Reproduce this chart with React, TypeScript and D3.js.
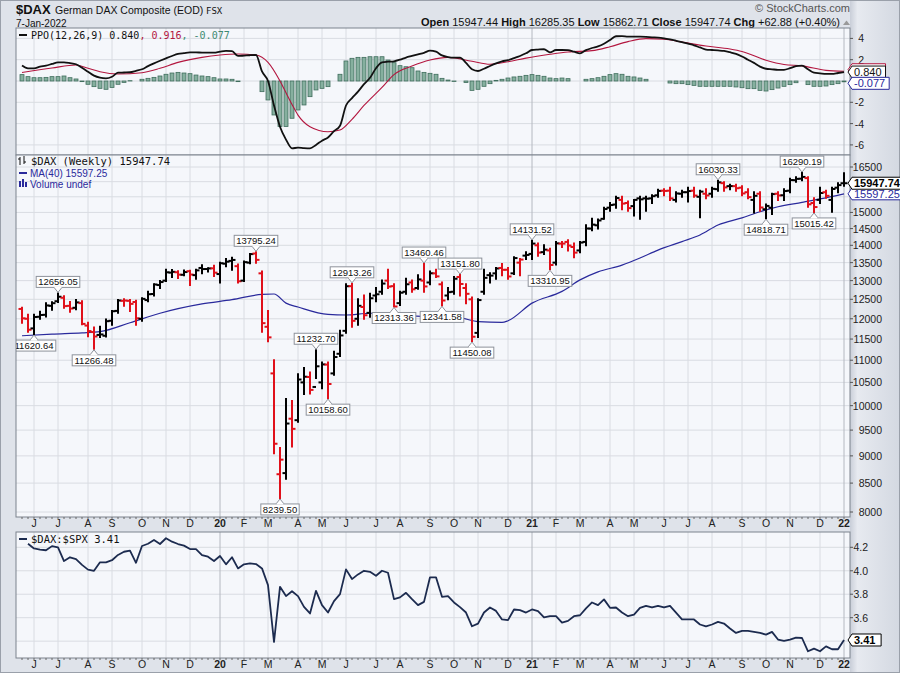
import React from "react";
import * as d3 from "d3";

// ---------- DATA ----------
const START = new Date(2019, 4, 20); // first weekly bar (Monday)
const END = new Date(2022, 0, 4);
const PREV_CLOSE = 12238;

const opens = [
  12250, 12000, 11760, 12050, 12100, 12330, 12450, 12540, 12330, 12280,
  12400, 11830, 11670, 11600, 11580, 11950, 12200, 12460, 12460, 12430,
  12000, 12480, 12640, 12880, 13000, 13220, 13230, 13160, 13260, 13150,
  13350, 13320, 13340, 13180, 13470, 13550, 13400, 13000, 13500, 13760,
  13200, 11800, 10700, 8660, 8680, 9730, 9700, 10500, 10620, 10400,
  10500, 10900, 10700, 11150, 11700, 12850, 12000, 12300, 12150, 12600,
  12700, 13000, 12850, 12400, 12700, 12950, 12800, 13000, 12950, 13200,
  12900, 12600, 12700, 13100, 12800, 12500, 11650, 12700, 13150, 13200,
  13350, 13300, 13200, 13500, 13700, 13750, 14000, 13800, 13850, 13500,
  14050, 14100, 13950, 13850, 14100, 14500, 14600, 14800, 15150, 15250,
  15400, 15300, 15200, 15450, 15450, 15450, 15550, 15700, 15700, 15400,
  15600, 15650, 15700, 15500, 15600, 15600, 15750, 15950, 15850, 15850,
  15800, 15650, 15400, 15600, 15100, 15150, 15600, 15550, 15700, 16050,
  16100, 16120, 15300, 15400, 15650, 15400, 15800, 15947.44,
];
const highs = [
  12280, 12100, 12100, 12180, 12400, 12420, 12656.05, 12580, 12430, 12480,
  12450, 11900, 11780, 11800, 11980, 12200, 12480, 12500, 12480, 12460,
  12530, 12700, 12900, 12990, 13300, 13290, 13260, 13280, 13270, 13300,
  13425, 13340, 13410, 13500, 13600, 13640, 13450, 13530, 13750, 13795.24,
  13250, 12200, 11000, 9150, 10140, 10100, 10680, 10820, 10720, 11232.7,
  10950, 10950, 11200, 11700, 12900, 12913.26, 12500, 12600, 12650, 12800,
  13000, 13300, 12900, 12700, 13050, 13000, 13150, 13460.46, 13250, 13300,
  12950, 12800, 13100, 13151.8, 12900, 12550, 12500, 13300, 13200, 13350,
  13460, 13350, 13650, 13600, 13800, 14131.52, 14050, 14000, 13900, 14100,
  14100, 14150, 14050, 14100, 14600, 14800, 14780, 15150, 15300, 15500,
  15500, 15350, 15400, 15500, 15500, 15550, 15730, 15750, 15800, 15650,
  15700, 15800, 15800, 15700, 15750, 15800, 16030.33, 15980, 15900, 15900,
  15850, 15750, 15650, 15650, 15250, 15600, 15650, 15750, 16100, 16150,
  16290.19, 16150, 15450, 15800, 15700, 15800, 15950, 16285.35,
];
const lows = [
  11900, 11680, 11620.64, 12000, 12060, 12230, 12430, 12280, 12180, 12240,
  11860, 11570, 11266.48, 11550, 11560, 11850, 12150, 12330, 12200, 11850,
  11950, 12450, 12600, 12800, 12990, 13100, 13070, 13150, 12880, 13050,
  13200, 13250, 13130, 12950, 13400, 13300, 12950, 12990, 13480, 13500,
  11680, 11450, 9050, 8239.5, 8580, 9180, 9670, 10250, 10260, 10600,
  10370, 10158.6, 10670, 11100, 11650, 11800, 11850, 12000, 12050, 12450,
  12650, 12800, 12313.36, 12350, 12650, 12700, 12780, 12700, 12900, 13100,
  12341.58, 12500, 12650, 12600, 12400, 11450.08, 11550, 12650, 12950, 13050,
  13150, 13050, 13180, 13150, 13600, 13600, 13700, 13750, 13310.95, 13450,
  13950, 13850, 13650, 13800, 14000, 14450, 14500, 14800, 15050, 15150,
  15100, 15050, 14900, 14800, 15050, 15300, 15500, 15550, 15400, 15350,
  15500, 15350, 15500, 14850, 15450, 15500, 15700, 15700, 15750, 15700,
  15550, 15450, 15000, 15050, 14818.71, 14950, 15400, 15400, 15650, 16000,
  16050, 15180, 15015.42, 15300, 15470, 15020, 15650, 15862.71,
];
const closes = [
  12011, 11727, 12045, 12096, 12340, 12399, 12568, 12323, 12260, 12419,
  11872, 11694, 11562, 11612, 11939, 12191, 12469, 12468, 12381, 12012,
  12512, 12634, 12895, 12961, 13229, 13242, 13164, 13236, 13167, 13283,
  13319, 13337, 13219, 13483, 13527, 13577, 12982, 13514, 13744, 13579,
  11890, 11541, 9232, 8929, 9632, 9525, 10564, 10626, 10336, 10861,
  10904, 10465, 11074, 11587, 12848, 11949, 12331, 12089, 12528, 12633,
  12920, 12838, 12313, 12674, 12901, 12765, 13033, 12842, 13202, 13116,
  12469, 12689, 13051, 12909, 12645, 11556, 12480, 13076, 13137, 13335,
  13298, 13114, 13630, 13587, 13719, 14050, 13787, 13873, 13433, 14057,
  14050, 13993, 13786, 14080, 14502, 14621, 14749, 15107, 15234, 15459,
  15280, 15136, 15400, 15417, 15438, 15520, 15693, 15692, 15448, 15608,
  15650, 15688, 15540, 15669, 15544, 15761, 15977, 15808, 15852, 15781,
  15609, 15490, 15532, 15156, 15206, 15587, 15543, 15688, 16054, 16094,
  16160, 15257, 15170, 15623, 15532, 15756, 15885, 15947.74,
];

const maWeeks = [0, 5, 10, 13, 18, 23, 30, 35, 40, 42, 44, 46, 51, 54, 58, 63, 68, 73, 76, 80, 81, 85, 90, 93, 96, 100, 103, 106, 110, 113, 116, 120, 123, 126, 130, 133, 137];
const maValues = [11580, 11620, 11650, 11680, 11900, 12140, 12380, 12490, 12630, 12640, 12400, 12300, 12110, 12095, 12140, 12095, 12050, 12020, 11930, 11910, 11950, 12400, 12710, 13020, 13240, 13430, 13630, 13860, 14110, 14306, 14610, 14830, 15020, 15180, 15320, 15430, 15597.25];

const ppoValues = [
  1.45, 1.19, 1.19, 1.34, 1.45, 1.6, 1.75, 1.75, 1.68, 1.57,
  1.25, 0.87, 0.5, 0.31, 0.25, 0.4, 0.78, 0.8, 0.82, 0.95,
  1.1, 1.4, 1.66, 1.9, 2.13, 2.35, 2.54, 2.62, 2.69, 2.68,
  2.67, 2.66, 2.66, 2.75, 2.82, 2.8, 2.35, 2.38, 2.42, 2.44,
  0.9, 0.0, -2.3, -4.29, -5.5, -6.32, -6.26, -6.3, -6.32, -6.0,
  -5.6, -5.3, -4.7, -4.2, -2.3, -1.6, -1.0, -0.3, 0.3, 1.2,
  1.75, 1.81, 1.85, 2.0, 2.2, 2.35, 2.5, 2.65, 2.85, 2.75,
  2.4, 2.25, 2.2, 2.2, 1.7, 1.1, 0.94, 1.15, 1.41, 1.65,
  1.85, 1.95, 2.15, 2.35, 2.6, 2.91, 2.95, 2.98, 2.69, 2.91,
  2.91, 2.9, 2.75, 2.6, 2.9, 3.1, 3.25, 3.5, 3.85, 4.2,
  4.22, 4.16, 4.16, 4.16, 4.14, 4.1, 4.07, 4.0, 3.9, 3.78,
  3.65, 3.5, 3.35, 3.15, 2.95, 2.91, 2.87, 2.82, 2.7, 2.55,
  2.3, 2.0, 1.7, 1.35, 1.15, 1.1, 1.05, 1.05, 1.2, 1.4,
  1.45, 1.1, 0.78, 0.72, 0.66, 0.66, 0.75, 0.84,
];
const sigWeeks = [0, 5, 9, 11, 13, 16, 20, 23, 26, 30, 33, 36, 39, 41, 43, 44, 45, 46, 48, 51, 53, 55, 57, 60, 62, 65, 68, 71, 75, 78, 81, 84, 88, 91, 95, 98, 101, 104, 107, 110, 114, 118, 120, 124, 127, 130, 134, 137];
const sigValues = [0.8, 1.22, 1.5, 1.19, 0.87, 0.66, 0.78, 1.19, 1.75, 2.22, 2.44, 2.54, 2.44, 1.75, 0.0, -1.1, -2.2, -3.2, -4.29, -4.76, -4.6, -3.6, -2.3, -0.6, 0.6, 1.4, 1.97, 2.22, 1.85, 1.57, 1.81, 2.15, 2.51, 2.73, 2.85, 3.22, 3.7, 3.98, 3.92, 3.65, 3.28, 3.0, 2.77, 1.95, 1.55, 1.42, 1.0, 0.916];
const histValues = [
  0.6, 0.41, 0.31, 0.31, 0.34, 0.41, 0.41, 0.47, 0.31, 0.19,
  -0.06, -0.31, -0.53, -0.69, -0.78, -0.6, -0.31, -0.13, 0.03, 0.0,
  0.16, 0.25, 0.34, 0.47, 0.63, 0.75, 0.81, 0.75, 0.69, 0.56,
  0.47, 0.41, 0.31, 0.19, 0.19, 0.16, -0.06, 0.0, 0.0, 0.0,
  -1.0, -1.78, -3.19, -4.28, -4.28, -3.5, -2.72, -2.25, -1.47, -0.84,
  -0.69, -0.53, 0.0, 0.63, 1.88, 2.13, 2.22, 2.22, 2.28, 2.28,
  2.28, 1.97, 1.72, 1.44, 1.34, 1.25, 0.94, 0.81, 0.72, 0.63,
  0.25, 0.09, -0.05, 0.0, -0.15, -0.88, -0.78, -0.5, -0.25, 0.06,
  0.16, 0.28, 0.38, 0.44, 0.53, 0.6, 0.53, 0.44, 0.28, 0.22,
  0.28, 0.22, 0.0, 0.0, 0.16, 0.22, 0.31, 0.44, 0.6, 0.69,
  0.63, 0.44, 0.38, 0.28, 0.16, 0.0, 0.0, 0.0, -0.19, -0.25,
  -0.25, -0.34, -0.41, -0.5, -0.5, -0.5, -0.5, -0.5, -0.5, -0.56,
  -0.63, -0.72, -0.72, -0.88, -0.94, -0.81, -0.66, -0.5, -0.34, -0.16,
  0.0, -0.34, -0.5, -0.5, -0.47, -0.34, -0.25, -0.077,
];
// $DAX:$SPX ratio, starts at week 1
const ratioValues = [
  4.23, 4.19, 4.18, 4.175, 4.21, 4.2, 4.083, 4.115, 4.1,
  4.05, 4.01, 4.0, 4.072, 4.072, 4.09, 4.135, 4.162, 4.171, 4.068,
  4.211, 4.23, 4.262, 4.228, 4.277, 4.248, 4.228, 4.214, 4.185, 4.185,
  4.134, 4.12, 4.083, 4.126, 4.055, 4.115, 4.02, 4.055, 4.063, 4.057,
  4.02, 3.878, 3.393, 3.863, 3.784, 3.826, 3.784, 3.692, 3.636, 3.829,
  3.707, 3.644, 3.741, 3.801, 4.012, 3.929, 3.969, 4.0, 3.991, 3.957,
  4.0, 3.983, 3.758, 3.773, 3.812, 3.758, 3.707, 3.735, 3.944, 3.944,
  3.778, 3.784, 3.73, 3.69, 3.644, 3.527, 3.55, 3.644, 3.687, 3.658,
  3.585, 3.579, 3.67, 3.664, 3.644, 3.67, 3.656, 3.602, 3.613, 3.613,
  3.559, 3.573, 3.613, 3.621, 3.679, 3.73, 3.707, 3.756, 3.684, 3.687,
  3.644, 3.613, 3.627, 3.684, 3.701, 3.687, 3.701, 3.687, 3.701, 3.644,
  3.585, 3.585, 3.585, 3.542, 3.527, 3.542, 3.564, 3.55, 3.508, 3.47,
  3.487, 3.487, 3.479, 3.47, 3.456, 3.479, 3.414, 3.402, 3.414, 3.431,
  3.427, 3.314, 3.337, 3.314, 3.356, 3.331, 3.331, 3.41,
];

const priceTicks = [8000, 8500, 9000, 9500, 10000, 10500, 11000, 11500, 12000, 12500, 13000, 13500, 14000, 14500, 15000, 15500, 16000, 16500];
const priceLabelTicks = [8000, 8500, 9000, 9500, 10000, 10500, 11000, 11500, 12000, 12500, 13000, 13500, 14000, 14500, 15000, 16500];
const ppoTicks = [-6, -4, -2, 0, 2, 4];
const ppoLabelTicks = [-6, -4, -2, 2, 4];
const ratioTicks = [3.4, 3.6, 3.8, 4.0, 4.2];
const ratioLabelTicks = [3.6, 3.8, 4.0, 4.2];

const annoWeeks = [6, 2, 12, 39, 43, 49, 51, 55, 62, 67, 70, 73, 75, 85, 88, 116, 124, 130, 132];
const annoValues = [12656.05, 11620.64, 11266.48, 13795.24, 8239.5, 11232.7, 10158.6, 12913.26, 12313.36, 13460.46, 12341.58, 13151.8, 11450.08, 14131.52, 13310.95, 16030.33, 14818.71, 16290.19, 15015.42];
const annoSide = ["H", "L", "L", "H", "L", "H", "L", "H", "L", "H", "L", "H", "L", "H", "L", "H", "L", "H", "L"];

const MONTHS = "JFMAMJJASOND";

// ---------- STYLE ----------
const SANS = "'Liberation Sans', Arial, sans-serif";
const MONO = "'DejaVu Sans Mono', monospace";
const PANEL_BG = "#f5f7fb";
const GRID = "#d9dce2";
const GRID_YEAR = "#b4b8c0";
const BORDER = "#7d838d";
const RED = "#e0101a";
const NAVY = "#2a2a9c";

export default function App() {
  const dates = d3.timeMonday.range(START, END);
  const n = dates.length;
  const L = 16, R = 850;
  const ppoTop = 28, ppoBot = 155, mainTop = 155, mainBot = 517, rTop = 532, rBot = 658;

  const x = d3.scaleLinear().domain([0, n - 1]).range([22, 844]);
  const yP = d3.scaleLog().domain([8000, 16500]).range([512, 167]);
  const yO = d3.scaleLinear().domain([-6, 4]).range([144.9, 38.4]);
  const yR = d3.scaleLinear().domain([3.6, 4.2]).range([617.7, 547.3]);

  const monthTicks = dates
    .map((d, i) => ({ d, i }))
    .filter(({ d, i }) => i > 0 && d.getMonth() !== dates[i - 1].getMonth());

  const maPath = d3.line<number>().x((_, k) => x(maWeeks[k])).y((v) => yP(v)).curve(d3.curveMonotoneX)(maValues) || "";
  const ppoPath = d3.line<number>().x((_, k) => x(k)).y((v) => yO(v)).curve(d3.curveMonotoneX)(ppoValues) || "";
  const sigPath = d3.line<number>().x((_, k) => x(sigWeeks[k])).y((v) => yO(v)).curve(d3.curveMonotoneX)(sigValues) || "";
  const ratioPath = d3.line<number>().x((_, k) => x(k + 1)).y((v) => yR(v))(ratioValues) || "";

  const vGrid = (top: number, bot: number, key: string) =>
    monthTicks.map(({ d, i }) => (
      <line key={key + i} x1={x(i)} x2={x(i)} y1={top} y2={bot} stroke={d.getMonth() === 0 ? GRID_YEAR : GRID} strokeWidth={1} />
    ));

  const monthLabels = (yBase: number, key: string) =>
    monthTicks.map(({ d, i }) => (
      <text key={key + i} x={x(i)} y={yBase} textAnchor="middle" fontFamily={SANS} fontSize={10.5}
        fontWeight={d.getMonth() === 0 ? "bold" : "normal"} fill="#222">
        {d.getMonth() === 0 ? d3.timeFormat("%y")(d) : MONTHS[d.getMonth()]}
      </text>
    ));

  const weekTicks = (yb: number, key: string) =>
    dates.map((d, i) => (
      <line key={key + i} x1={x(i)} x2={x(i)} y1={yb} y2={yb + 2} stroke="#666" strokeWidth={1} />
    ));

  const textW = (s: string, fs: number) => {
    let w = 0;
    for (const c of s) w += c === "." ? 0.278 : c === "-" ? 0.333 : 0.556;
    return w * fs;
  };

  const valueBox = (label: string, yv: number, color: string, bold: boolean, key: string, showText = true, x0 = 852, fs = 11) => {
    const w = textW(label, fs) * (bold ? 1.08 : 1) + 6;
    const h = 12;
    return (
      <g key={key}>
        <path d={`M${x0 - 4},${yv} L${x0},${yv - h / 2} H${x0 + w} V${yv + h / 2} H${x0} Z`} fill="#fff" stroke={color} strokeWidth={1} />
        {showText && (
          <text x={x0 + 2} y={yv + 4} fontFamily={SANS} fontSize={fs} fontWeight={bold ? "bold" : "normal"} fill={color}>{label}</text>
        )}
      </g>
    );
  };

  return (
    <svg width={900} height={673} style={{ position: "absolute", left: 0, top: 0, display: "block" }}>
      <defs>
        <linearGradient id="rstrip" x1="0" x2="1" y1="0" y2="0">
          <stop offset="0" stopColor="#c9ced8" />
          <stop offset="0.15" stopColor="#e7eaf0" />
          <stop offset="1" stopColor="#d3d8e1" />
        </linearGradient>
        <clipPath id="cPPO"><rect x={L} y={ppoTop} width={R - L} height={ppoBot - ppoTop} /></clipPath>
        <clipPath id="cMain"><rect x={L} y={mainTop} width={R - L} height={mainBot - mainTop} /></clipPath>
        <clipPath id="cR"><rect x={L} y={rTop} width={R - L} height={rBot - rTop} /></clipPath>
      </defs>
      <rect x={0} y={0} width={900} height={673} fill="#dfe3ea" />
      <rect x={850} y={0} width={50} height={673} fill="url(#rstrip)" />
      <rect x={0.5} y={0.5} width={899} height={672} fill="none" stroke="#9aa0aa" />

      {/* Header */}
      <text x={16} y={14} fontFamily={SANS} fontSize={13} fontWeight="bold" fill="#111">$DAX</text>
      <text x={55} y={14} fontFamily={SANS} fontSize={10.5} fill="#111">German DAX Composite (EOD)</text>
      <text x={206} y={14} fontFamily={MONO} fontSize={9} fill="#111">FSX</text>
      <text x={16} y={27} fontFamily={SANS} fontSize={10} fill="#111">7-Jan-2022</text>
      <text x={850} y={12} textAnchor="end" fontFamily={SANS} fontSize={11} fill="#555">© StockCharts.com</text>
      <text x={840} y={26} textAnchor="end" fontFamily={SANS} fontSize={11} fill="#111">
        <tspan fontWeight="bold">Open</tspan> 15947.44 <tspan fontWeight="bold">High</tspan> 16285.35{" "}
        <tspan fontWeight="bold">Low</tspan> 15862.71 <tspan fontWeight="bold">Close</tspan> 15947.74{" "}
        <tspan fontWeight="bold">Chg</tspan> +62.88 (+0.40%)
      </text>
      <path d="M843,25 L846.5,20.5 L850,25 Z" fill="#999" />

      {/* ---------- PPO panel ---------- */}
      <rect x={L} y={ppoTop} width={R - L} height={ppoBot - ppoTop} fill={PANEL_BG} stroke="none" />
      {ppoTicks.map((t) => (
        <line key={"pg" + t} x1={L} x2={R} y1={yO(t)} y2={yO(t)} stroke={GRID} />
      ))}
      {vGrid(ppoTop, ppoBot, "pv")}
      <g clipPath="url(#cPPO)">
        {histValues.map((v, i) => {
          const y0 = yO(0), y1 = yO(v);
          return (
            <rect key={"h" + i} x={x(i) - 2} y={Math.min(y0, y1)} width={4} height={Math.abs(y1 - y0)}
              fill="#86b09f" stroke="#3f6d5c" strokeWidth={0.8} />
          );
        })}
        <path d={sigPath} fill="none" stroke="#b3163f" strokeWidth={1.1} />
        <path d={ppoPath} fill="none" stroke="#111" strokeWidth={1.8} />
      </g>
      <rect x={L} y={ppoTop} width={R - L} height={ppoBot - ppoTop} fill="none" stroke={BORDER} />
      <line x1={19} x2={27} y1={35} y2={35} stroke="#111" strokeWidth={2} />
      <text x={31} y={38.5} fontFamily={MONO} fontSize={10} fill="#111">
        PPO(12,26,9) 0.840<tspan fill="#b3163f">, 0.916</tspan><tspan fill="#3d8a72">, -0.077</tspan>
      </text>
      {ppoLabelTicks.map((t) => (
        <g key={"pl" + t}>
          <line x1={R} x2={R + 3} y1={yO(t)} y2={yO(t)} stroke="#555" />
          <text x={864} y={yO(t) + 4} textAnchor="end" fontFamily={SANS} fontSize={10.5} fill="#222">{t}</text>
        </g>
      ))}
      {valueBox("0.916", yO(0.916) - 1.5, "#b3163f", false, "sb", false)}
      {valueBox("0.840", yO(0.84), "#111", false, "pb")}
      {valueBox("-0.077", yO(-0.077) + 1.5, NAVY, false, "hb")}

      {/* ---------- Main panel ---------- */}
      <rect x={L} y={mainTop} width={R - L} height={mainBot - mainTop} fill={PANEL_BG} stroke="none" />
      {priceTicks.map((t) => (
        <line key={"mg" + t} x1={L} x2={R} y1={yP(t)} y2={yP(t)} stroke={GRID} />
      ))}
      {vGrid(mainTop, mainBot, "mv")}
      <g clipPath="url(#cMain)">
        <path d={maPath} fill="none" stroke={NAVY} strokeWidth={1.2} />
        {closes.map((c, i) => {
          const prev = i === 0 ? PREV_CLOSE : closes[i - 1];
          const col = c < prev ? RED : "#000";
          const xi = x(i);
          return (
            <g key={"b" + i} stroke={col} strokeWidth={2}>
              <line x1={xi} x2={xi} y1={yP(highs[i]) - 1} y2={yP(lows[i]) + 1} />
              <line x1={xi - 3.5} x2={xi} y1={yP(opens[i])} y2={yP(opens[i])} />
              <line x1={xi} x2={xi + 3.5} y1={yP(c)} y2={yP(c)} />
            </g>
          );
        })}
        {annoWeeks.map((w, k) => {
          const v = annoValues[k];
          const label = v.toFixed(2);
          const fs = 9.5;
          const bw = textW(label, fs) + 4;
          const cx = x(w);
          const yv = yP(v);
          const high = annoSide[k] === "H";
          const bh = 11;
          const by = high ? yv - 6 - bh : yv + 6;
          const edge = high ? by + bh : by;
          const tip = high ? yv - 1 : yv + 1;
          return (
            <g key={"a" + k}>
              <rect x={cx - bw / 2} y={by} width={bw} height={bh} fill="#fff" stroke="#8d929b" strokeWidth={1} />
              <path d={`M${cx - 4},${edge} L${cx},${tip} L${cx + 4},${edge}`} fill="#fff" stroke="#8d929b" strokeWidth={1} />
              <line x1={cx - 3.3} x2={cx + 3.3} y1={edge} y2={edge} stroke="#fff" strokeWidth={1.2} />
              <text x={cx} y={by + 8.8} textAnchor="middle" fontFamily={SANS} fontSize={fs} fill="#111">{label}</text>
            </g>
          );
        })}
      </g>
      <rect x={L} y={mainTop} width={R - L} height={mainBot - mainTop} fill="none" stroke={BORDER} />
      {/* legend */}
      <g stroke="#111" strokeWidth={1}>
        <line x1={20} x2={20} y1={157} y2={165} />
        <line x1={18} x2={20} y1={159} y2={159} />
        <line x1={24} x2={24} y1={156} y2={164} />
        <line x1={24} x2={26} y1={162} y2={162} />
      </g>
      <text x={31} y={165} fontFamily={MONO} fontSize={10.5} fill="#111">$DAX (Weekly) 15947.74</text>
      <line x1={19} x2={27} y1={173} y2={173} stroke={NAVY} strokeWidth={2} />
      <text x={30} y={176.5} fontFamily={SANS} fontSize={10} fill={NAVY}>MA(40) 15597.25</text>
      <g fill={NAVY}>
        <rect x={19} y={181} width={2} height={6} />
        <rect x={22} y={179} width={2} height={8} />
        <rect x={25} y={182} width={2} height={5} />
      </g>
      <text x={30} y={187.5} fontFamily={SANS} fontSize={10} fill={NAVY}>Volume undef</text>
      {priceTicks.map((t) => (
        <line key={"mt" + t} x1={R} x2={R + 3} y1={yP(t)} y2={yP(t)} stroke="#555" />
      ))}
      {priceLabelTicks.map((t) => (
        <text key={"ml" + t} x={882} y={yP(t) + 4} textAnchor="end" fontFamily={SANS} fontSize={10.5} fill="#222">{t}</text>
      ))}
      {valueBox("15597.25", yP(15597.25), NAVY, false, "mab")}
      {valueBox("15947.74", yP(15947.74), "#000", true, "cb")}

      {/* x axis labels between panels */}
      {weekTicks(mainBot, "wt1")}
      {monthLabels(527, "ml1")}

      {/* ---------- Ratio panel ---------- */}
      <rect x={L} y={rTop} width={R - L} height={rBot - rTop} fill={PANEL_BG} stroke="none" />
      {ratioTicks.map((t) => (
        <line key={"rg" + t} x1={L} x2={R} y1={yR(t)} y2={yR(t)} stroke={GRID} />
      ))}
      {vGrid(rTop, rBot, "rv")}
      <g clipPath="url(#cR)">
        <path d={ratioPath} fill="none" stroke="#1c2b4f" strokeWidth={1.8} strokeLinejoin="round" />
      </g>
      <rect x={L} y={rTop} width={R - L} height={rBot - rTop} fill="none" stroke={BORDER} />
      <line x1={19} x2={27} y1={539} y2={539} stroke="#1c2b4f" strokeWidth={2} />
      <text x={31} y={542.5} fontFamily={MONO} fontSize={10.5} fill="#111">$DAX:$SPX 3.41</text>
      {ratioLabelTicks.map((t) => (
        <g key={"rl" + t}>
          <line x1={R} x2={R + 3} y1={yR(t)} y2={yR(t)} stroke="#555" />
          <text x={868} y={yR(t) + 4} textAnchor="end" fontFamily={SANS} fontSize={10.5} fill="#222">{t.toFixed(1)}</text>
        </g>
      ))}
      {valueBox("3.41", yR(3.41), "#000", true, "rb")}
      {weekTicks(rBot, "wt2")}
      {monthLabels(668, "ml2")}
    </svg>
  );
}
